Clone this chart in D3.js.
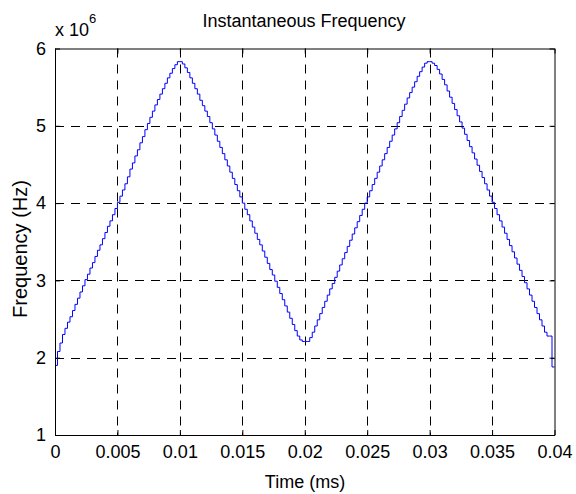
<!DOCTYPE html>
<html>
<head>
<meta charset="utf-8">
<script src="https://cdn.jsdelivr.net/npm/d3@7"></script>
<style>
  html, body { margin: 0; padding: 0; background: #fff; }
  svg { display: block; font-family: Arial, "Liberation Sans", sans-serif; }
</style>
</head>
<body>
<svg id="chart" width="576" height="494"></svg>
<script>
// Sampling period of the frequency estimate (ms)
const sampleStep = 0.0002;

// Instantaneous frequency, in units of 1e6 Hz, one value per sample
const freqValues = [
  1.90, 2.08, 2.19, 2.30, 2.38, 2.46, 2.53, 2.61, 2.69, 2.77,
  2.85, 2.93, 3.01, 3.08, 3.16, 3.23, 3.31, 3.39, 3.46, 3.54,
  3.62, 3.70, 3.77, 3.85, 3.93, 4.01, 4.09, 4.17, 4.25, 4.34,
  4.44, 4.52, 4.61, 4.69, 4.78, 4.86, 4.95, 5.03, 5.11, 5.19,
  5.27, 5.34, 5.41, 5.48, 5.55, 5.62, 5.68, 5.74, 5.79, 5.83,
  5.83, 5.80, 5.75, 5.69, 5.62, 5.55, 5.48, 5.41, 5.33, 5.26,
  5.19, 5.12, 5.04, 4.96, 4.88, 4.80, 4.72, 4.64, 4.56, 4.48,
  4.40, 4.32, 4.24, 4.16, 4.08, 4.00, 3.92, 3.85, 3.77, 3.69,
  3.61, 3.53, 3.46, 3.38, 3.30, 3.22, 3.14, 3.07, 2.99, 2.91,
  2.83, 2.75, 2.67, 2.59, 2.51, 2.43, 2.35, 2.28, 2.23, 2.21,
  2.21, 2.21, 2.26, 2.33, 2.41, 2.49, 2.57, 2.65, 2.73, 2.81,
  2.89, 2.96, 3.04, 3.12, 3.20, 3.28, 3.36, 3.44, 3.52, 3.60,
  3.68, 3.76, 3.84, 3.92, 4.00, 4.08, 4.16, 4.24, 4.32, 4.40,
  4.48, 4.56, 4.64, 4.72, 4.80, 4.88, 4.96, 5.04, 5.12, 5.20,
  5.28, 5.36, 5.43, 5.50, 5.57, 5.64, 5.70, 5.76, 5.81, 5.83,
  5.83, 5.81, 5.78, 5.73, 5.67, 5.60, 5.53, 5.45, 5.37, 5.29,
  5.21, 5.13, 5.05, 4.97, 4.89, 4.81, 4.73, 4.65, 4.57, 4.49,
  4.41, 4.33, 4.25, 4.17, 4.09, 4.01, 3.93, 3.85, 3.77, 3.69,
  3.61, 3.53, 3.45, 3.37, 3.29, 3.21, 3.13, 3.05, 2.97, 2.89,
  2.81, 2.73, 2.65, 2.57, 2.49, 2.41, 2.33, 2.28, 2.28, 1.88,
  1.88
];

// Axis ticks and labels
const xTicks = [0, 0.005, 0.01, 0.015, 0.02, 0.025, 0.03, 0.035, 0.04];
const xTickLabels = ["0", "0.005", "0.01", "0.015", "0.02", "0.025", "0.03", "0.035", "0.04"];
const yTicks = [1, 2, 3, 4, 5, 6];
const yTickLabels = ["1", "2", "3", "4", "5", "6"];

const titleText = "Instantaneous Frequency";
const xLabelText = "Time (ms)";
const yLabelText = "Frequency (Hz)";

const svg = d3.select("#chart");
const box = { left: 55, right: 554.5, top: 48.5, bottom: 435 };

const x = d3.scaleLinear().domain([0, 0.04]).range([box.left, box.right]);
const y = d3.scaleLinear().domain([1, 6]).range([box.bottom, box.top]);

const data = freqValues.map((v, i) => ({ t: i * sampleStep, f: v }));

// Dashed grid (vertical lines dashed from the top, horizontal from the left)
const grid = svg.append("g").attr("stroke", "#000").attr("stroke-width", 1)
  .attr("stroke-dasharray", "9,7").attr("fill", "none");
grid.selectAll("line.gx").data(xTicks.slice(1, -1)).join("line")
  .attr("x1", d => Math.round(x(d)) + 0.5).attr("x2", d => Math.round(x(d)) + 0.5)
  .attr("y1", box.top).attr("y2", box.bottom);
grid.selectAll("line.gy").data(yTicks.slice(1, -1)).join("line")
  .attr("y1", d => Math.round(y(d)) + 0.5).attr("y2", d => Math.round(y(d)) + 0.5)
  .attr("x1", box.left).attr("x2", box.right);

// Frequency trace
const line = d3.line()
  .x(d => x(d.t))
  .y(d => y(d.f))
  .curve(d3.curveStepAfter);
svg.append("path").datum(data)
  .attr("fill", "none").attr("stroke", "#0000ff").attr("stroke-width", 1)
  .attr("d", line);

// Axes (ticks pointing inward, box on all sides)
const fmtX = (d, i) => xTickLabels[i];
const fmtY = (d, i) => yTickLabels[i];

const axB = svg.append("g").attr("transform", `translate(0,${box.bottom})`)
  .call(d3.axisBottom(x).tickValues(xTicks).tickFormat(fmtX).tickSizeInner(-5).tickSizeOuter(0).tickPadding(10));
const axT = svg.append("g").attr("transform", `translate(0,${box.top})`)
  .call(d3.axisTop(x).tickValues(xTicks).tickFormat("").tickSizeInner(-5).tickSizeOuter(0));
const axL = svg.append("g").attr("transform", `translate(${box.left},0)`)
  .call(d3.axisLeft(y).tickValues(yTicks).tickFormat(fmtY).tickSizeInner(-5).tickSizeOuter(0).tickPadding(9));
const axR = svg.append("g").attr("transform", `translate(${box.right},0)`)
  .call(d3.axisRight(y).tickValues(yTicks).tickFormat("").tickSizeInner(-5).tickSizeOuter(0));

[axB, axT, axL, axR].forEach(g => {
  g.select(".domain").attr("stroke", "#000").attr("stroke-width", 1);
  g.selectAll(".tick line").attr("stroke", "#000");
  g.selectAll("text").attr("fill", "#000").attr("font-size", 18)
    .attr("font-family", "Arial, 'Liberation Sans', sans-serif");
});
axB.selectAll("text").attr("dy", "0.71em");

// Title and labels
svg.append("text").attr("x", 304).attr("y", 27).attr("text-anchor", "middle")
  .attr("font-size", 18).text(titleText);
svg.append("text").attr("x", 305).attr("y", 488).attr("text-anchor", "middle")
  .attr("font-size", 18).text(xLabelText);
svg.append("text").attr("transform", "translate(27,249) rotate(-90)")
  .attr("text-anchor", "middle").attr("font-size", 20).text(yLabelText);

// Exponent of the y axis
const expo = svg.append("text").attr("x", 55).attr("y", 36).attr("font-size", 18);
expo.append("tspan").text("x 10");
expo.append("tspan").attr("font-size", 13).attr("dy", -13).text("6");
</script>
</body>
</html>
